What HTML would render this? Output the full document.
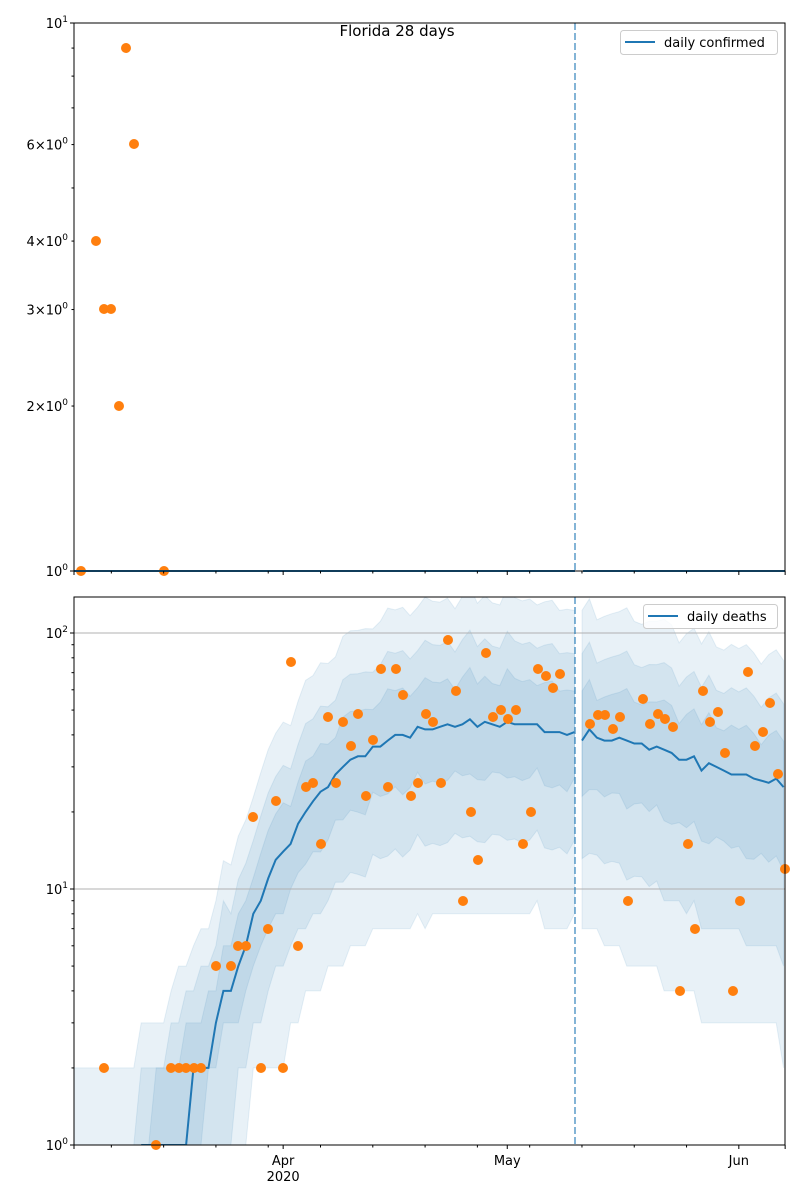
<!DOCTYPE html>
<html><head><meta charset="utf-8">
<style>
html,body{margin:0;padding:0;background:#fff;width:800px;height:1200px;overflow:hidden;}
svg{display:block;font-family:"DejaVu Sans","Liberation Sans",sans-serif;}
</style></head>
<body>
<svg id="s" width="800" height="1200" xmlns="http://www.w3.org/2000/svg">
<defs>
<clipPath id="cb"><rect x="74" y="597" width="711" height="548"/></clipPath>
</defs>
<rect width="800" height="1200" fill="#fff"/>
<g id="bands" clip-path="url(#cb)"></g>
<g id="grid"></g>
<g id="lines" clip-path="url(#cb)"></g>
<g id="pts"></g>
<g id="axes"></g>
<text x="397" y="36" font-size="15" text-anchor="middle">Florida 28 days</text>
<g>
<rect x="620.5" y="30.5" width="157" height="24" rx="3" fill="#fff" fill-opacity="0.8" stroke="#ccc"/>
<line x1="625" y1="42" x2="655" y2="42" stroke="#1f77b4" stroke-width="2"/>
<text x="664" y="47" font-size="13">daily confirmed</text>
<rect x="643.5" y="604.5" width="134" height="24" rx="3" fill="#fff" fill-opacity="0.8" stroke="#ccc"/>
<line x1="648" y1="616" x2="678" y2="616" stroke="#1f77b4" stroke-width="2"/>
<text x="687" y="621" font-size="13">daily deaths</text>
</g>
</svg>
<script>
var NS="http://www.w3.org/2000/svg";
function el(p,t,a,txt){var e=document.createElementNS(NS,t);for(var k in a)e.setAttribute(k,a[k]);if(txt!==undefined)e.textContent=txt;document.getElementById(p).appendChild(e);return e;}
function X(d){return 74+7.47*d;}
function YB(v){return 1145-256*Math.log10(v);}
function YT(v){return 571-548*Math.log10(v);}
var med1=[null,null,null,null,null,null,null,null,null,1,1,1,1,1,1,1,2,2,2,3,4,4,5,6,8,9,11,13,14,15,18,20,22,24,25,28,30,32,33,33,36,36,38,40,40,39,43,42,42,43,44,43,44,46,43,45,44,43,45,44,44,44,44,41,41,41,40,41];
var med2=[38,42,39,38,38,39,38,37,37,35,36,35,34,32,32,33,29,31,30,29,28,28,28,27,26.5,26,27,25];
var mu1=med1.map(function(v,i){if(i<=8)return 0.55;var e={9:0.8,10:0.9,11:1,12:1.1,13:1.3,14:1.5,15:1.7,16:2,17:2.2,18:2.5,19:3};return e[i]!==undefined?e[i]:v;});
function jit(i){return 1+0.04*Math.sin(i*2.3)+0.04*Math.cos(i*5.1);}
function band(mu,d0,up,dn,grow){
  var top=[],bot=[];
  for(var i=0;i<mu.length;i++){
    var g=grow?(1+grow*i/(mu.length-1)):1;
    var u=mu[i]*up*jit(i), l=mu[i]/(dn*g)*jit(i+7);
    if(u<10)u=Math.max(1,Math.round(u)); if(l<10)l=Math.round(l);
    if(l<0.5)l=0.3;
    top.push([X(d0+i),YB(u)]);bot.push([X(d0+i),YB(l)]);
  }
  var p="M"+top.map(function(q){return q[0].toFixed(1)+","+q[1].toFixed(1)}).join("L");
  p+="L"+bot.reverse().map(function(q){return q[0].toFixed(1)+","+q[1].toFixed(1)}).join("L")+"Z";
  return p;
}
var specs=[[3.1,5.5,0.9],[2.1,2.8,0.7],[1.5,1.6,0.3]];
specs.forEach(function(s){
  el("bands","path",{d:band(mu1,0,s[0],s[1],0),fill:"#1f77b4","fill-opacity":0.1,stroke:"#1f77b4","stroke-opacity":0.1});
  el("bands","path",{d:band(med2,68,s[0],s[1],s[2]),fill:"#1f77b4","fill-opacity":0.1,stroke:"#1f77b4","stroke-opacity":0.1});
});
function mline(arr,d0){var s="";for(var i=0;i<arr.length;i++){if(arr[i]===null)continue;s+=(s?"L":"M")+X(d0+i).toFixed(1)+","+YB(arr[i]).toFixed(1);}return s;}
el("lines","path",{d:mline(med1,0),fill:"none",stroke:"#1f77b4","stroke-width":2});
el("lines","path",{d:mline(med2,68),fill:"none",stroke:"#1f77b4","stroke-width":2});
[10,100].forEach(function(v){el("grid","line",{x1:74,x2:785,y1:YB(v),y2:YB(v),stroke:"#b0b0b0","stroke-width":1});});
el("axes","line",{x1:74,x2:575,y1:571,y2:571,stroke:"#1f77b4","stroke-width":2});
el("axes","line",{x1:583,x2:785,y1:571,y2:571,stroke:"#1f77b4","stroke-width":2});
var bp=[[104,1068],[156,1145],[171,1068],[179,1068],[186,1068],[194,1068],[201,1068],[216,966],[231,966],[238,946],[246,946],[253,817],[261,1068],[268,929],[276,801],[283,1068],[291,662],[298,946],[306,787],[313,783],[321,844],[328,717],[336,783],[343,722],[351,746],[358,714],[366,796],[373,740],[381,669],[388,787],[396,669],[403,695],[411,796],[418,783],[426,714],[433,722],[441,783],[448,640],[456,691],[463,901],[471,812],[478,860],[486,653],[493,717],[501,710],[508,719],[516,710],[523,844],[531,812],[538,669],[546,676],[553,688],[560,674],[590,724],[598,715],[605,715],[613,729],[620,717],[628,901],[643,699],[650,724],[658,714],[665,719],[673,727],[680,991],[688,844],[695,929],[703,691],[710,722],[718,712],[725,753],[733,991],[740,901],[748,672],[755,746],[763,732],[770,703],[778,774],[785,869]];
var tp=[[81,571],[96,241],[104,309],[111,309],[119,406],[126,48],[134,144],[164,571]];
bp.concat(tp).forEach(function(p){el("pts","circle",{cx:p[0],cy:p[1],r:5,fill:"#ff7f0e"});});
el("axes","line",{x1:575,x2:575,y1:23,y2:571,stroke:"#1f77b4","stroke-opacity":0.55,"stroke-width":2,"stroke-dasharray":"7,3"});
el("axes","line",{x1:575,x2:575,y1:597,y2:1145,stroke:"#1f77b4","stroke-opacity":0.55,"stroke-width":2,"stroke-dasharray":"7,3"});
el("axes","rect",{x:74,y:23,width:711,height:548,fill:"none",stroke:"#000","stroke-width":1});
el("axes","rect",{x:74,y:597,width:711,height:548,fill:"none",stroke:"#000","stroke-width":1});
var minors=[5,12,19,26,33,40,47,54,61,68,75,82];
[571,1145].forEach(function(y){
  minors.forEach(function(d){el("axes","line",{x1:X(d),x2:X(d),y1:y,y2:y+2.5,stroke:"#000"});});
  [0,28,58,89,95.2].forEach(function(d){el("axes","line",{x1:X(d),x2:X(d),y1:y,y2:y+4,stroke:"#000"});});
});
el("axes","text",{x:X(28),y:1165,"font-size":13,"text-anchor":"middle"},"Apr");
el("axes","text",{x:X(28),y:1181,"font-size":13,"text-anchor":"middle"},"2020");
el("axes","text",{x:X(58),y:1165,"font-size":13,"text-anchor":"middle"},"May");
el("axes","text",{x:X(89),y:1165,"font-size":13,"text-anchor":"middle"},"Jun");
[1,10].forEach(function(v){el("axes","line",{x1:70,x2:74,y1:YT(v),y2:YT(v),stroke:"#000"});});
[2,3,4,5,6,7,8,9].forEach(function(v){el("axes","line",{x1:71.5,x2:74,y1:YT(v),y2:YT(v),stroke:"#000"});});
function pw(x,y,base,exp){
  var t=el("axes","text",{x:x,y:y,"font-size":13,"text-anchor":"end"});
  t.textContent=base;
  var s=document.createElementNS(NS,"tspan");s.setAttribute("dy","-6");s.setAttribute("font-size","9");s.textContent=exp;t.appendChild(s);
}
pw(68,YT(10)+5,"10","1");
pw(68,YT(1)+5,"10","0");
[2,3,4,6].forEach(function(v){pw(68,YT(v)+5,v+"\u00d710","0");});
[1,10,100].forEach(function(v){el("axes","line",{x1:70,x2:74,y1:YB(v),y2:YB(v),stroke:"#000"});});
[1,10,100].forEach(function(m){for(var k=2;k<=9;k++){var v=m*k;if(YB(v)<597)continue;el("axes","line",{x1:71.5,x2:74,y1:YB(v),y2:YB(v),stroke:"#000"});}});
pw(68,YB(1)+5,"10","0");pw(68,YB(10)+5,"10","1");pw(68,YB(100)+5,"10","2");
</script>
</body></html>
